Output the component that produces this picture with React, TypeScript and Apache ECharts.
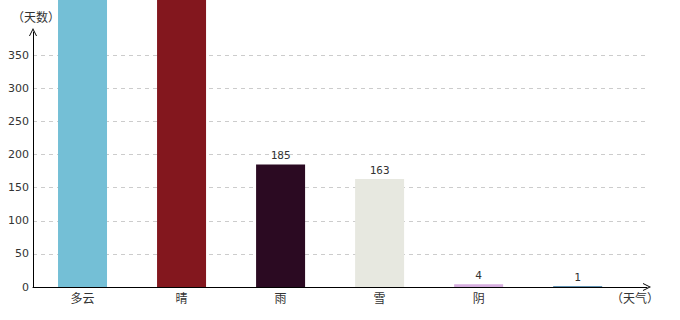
import React, { useEffect, useRef } from "react";
import * as echarts from "echarts";

const categories = ["多云", "晴", "雨", "雪", "阴", ""];
const values = [450, 440, 185, 163, 4, 1];
const colors = ["#74BFD6", "#83171E", "#2B0A22", "#E7E8E0", "#D6AEDF", "#2E6F99"];
const yTicks = [0, 50, 100, 150, 200, 250, 300, 350];
const yMax = 385;

const arrow = "path://M0,10 L5,0 L10,10 L8.8,10 L5,2.4 L1.2,10 Z";

export default function App() {
  const ref = useRef<HTMLDivElement>(null);
  useEffect(() => {
    const chart = echarts.init(ref.current!, null, { renderer: "svg" });
    const data = values.map((v, i) => ({
      value: [i + 1, v],
      itemStyle: { color: colors[i] },
      label: { show: v <= yMax },
    }));
    chart.setOption({
      animation: false,
      grid: { left: 33, right: 33, top: 32, bottom: 33, containLabel: false },
      xAxis: {
        type: "value",
        min: 0.5,
        max: 6.7,
        interval: 0.5,
        name: "（天气）",
        nameLocation: "end",
        nameGap: -36,
        nameTextStyle: {
          color: "#333",
          fontSize: 12,
          fontFamily: "Noto Sans CJK SC",
          verticalAlign: "top",
          padding: [4, 0, 0, 0],
        },
        axisLine: {
          show: true,
          lineStyle: { color: "#000", width: 1 },
          symbol: ["none", arrow],
          symbolSize: [8, 9],
        },
        axisTick: { show: false },
        splitLine: { show: false },
        axisLabel: {
          color: "#333",
          fontSize: 12,
          fontFamily: "Noto Sans CJK SC",
          margin: 4,
          showMaxLabel: false,
          formatter: (v: number) =>
            Number.isInteger(v) && v >= 1 && v <= categories.length ? categories[v - 1] : "",
        },
      },
      yAxis: {
        type: "value",
        min: 0,
        max: yMax,
        interval: 50,
        name: "（天数）",
        nameLocation: "end",
        nameGap: 10,
        nameTextStyle: {
          color: "#333",
          fontSize: 12,
          fontFamily: "Noto Sans CJK SC",
          padding: [0, 0, 0, 6],
        },
        axisLine: {
          show: true,
          lineStyle: { color: "#000", width: 1 },
          symbol: ["none", arrow],
          symbolSize: [8, 9],
        },
        axisTick: { show: false },
        axisLabel: {
          color: "#333",
          fontSize: 11,
          fontFamily: "DejaVu Sans",
          margin: 4,
          showMaxLabel: false,
          formatter: (v: number) => (yTicks.includes(v) ? String(v) : ""),
        },
        splitLine: {
          show: true,
          showMinLine: false,
          showMaxLine: false,
          lineStyle: { color: "#ccc", type: [4, 4], width: 1 },
        },
      },
      series: [
        {
          type: "bar",
          data,
          barWidth: 49,
          clip: false,
          label: {
            show: true,
            position: "top",
            distance: 3,
            color: "#333",
            fontSize: 11,
            fontFamily: "DejaVu Sans Mono",
            formatter: (p: any) => String(p.value[1]),
          },
        },
      ],
    });
    return () => chart.dispose();
  }, []);
  return (
    <>
      <style>{`svg text { text-spacing-trim: space-all !important; font-feature-settings: "fwid" 1; }`}</style>
      <div
        ref={ref}
        style={{ width: 680, height: 320, position: "absolute", left: 0, top: 0 }}
      />
    </>
  );
}
